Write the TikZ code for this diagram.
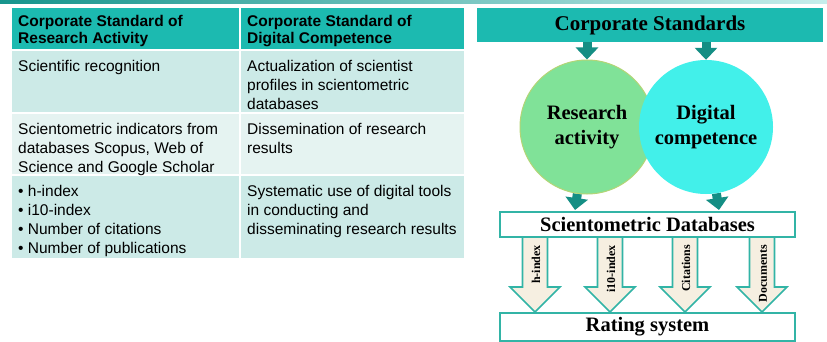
\documentclass[tikz,border=0pt]{standalone}
\usepackage{fontspec}
\setmainfont{Liberation Serif}
\newfontfamily\tabfont{Liberation Sans}
\usetikzlibrary{calc,arrows.meta,backgrounds}

\definecolor{tabhead}{RGB}{28,186,176}
\definecolor{rowdark}{RGB}{204,234,231}
\definecolor{rowlight}{RGB}{229,243,241}
\definecolor{darkteal}{RGB}{20,142,132}
\definecolor{boxline}{RGB}{50,180,166}
\definecolor{greenc}{RGB}{128,226,152}
\definecolor{cyanc}{RGB}{66,240,234}
\definecolor{arrowfill}{RGB}{246,239,225}

\tikzset{
  cell/.style={anchor=north west,inner sep=0pt,align=left,
    font=\tabfont\fontsize{15.5}{19}\selectfont},
  headcell/.style={cell,font=\tabfont\bfseries\fontsize{15.5}{17.5}\selectfont},
  tealarrow/.style={darkteal,line width=9pt,-{Triangle[width=22pt,length=12pt]}},
  dbbox/.style={draw=boxline,line width=2pt,fill=white,minimum width=295pt,
    inner sep=0pt,font=\bfseries\fontsize{20.5}{22}\selectfont},
  bigarrow/.style={draw=boxline,fill=arrowfill,line width=1.6pt,line join=miter},
  arrowlabel/.style={rotate=90,anchor=east,inner sep=0pt,font=\bfseries\fontsize{12}{12}\selectfont},
  blob/.style={circle,inner sep=0pt,minimum size=134pt,align=center,
    font=\bfseries\fontsize{20.5}{25}\selectfont}
}

% block arrow from the databases box down to the rating box
\newcommand{\tikzBlockArrow}[3]{
  \coordinate (#1top) at (#2,0 |- db.south);
  \coordinate (#1tip) at (#2,0 |- rate.north);
  \path[bigarrow] ($(#1top)+(-12.5,0)$) -- ($(#1tip)+(-12.5,-25)$) -- ($(#1tip)+(-25,-25)$)
    -- (#1tip) -- ($(#1tip)+(25,-25)$) -- ($(#1tip)+(12.5,-25)$) -- ($(#1top)+(12.5,0)$);
  \node[arrowlabel] (#1lab) at ($(#1top)+(1,7)$) {#3};
}

\begin{document}
\begin{tikzpicture}[x=1pt,y=-1pt]
  \useasboundingbox (0,0) rectangle (827,342);
  \shade[left color=tabhead!80!black,right color=tabhead!25] (0,0) rectangle (827,4);

  % table
  \fill[tabhead] (12,8) rectangle (464,50);
  \fill[rowdark] (12,50) rectangle (464,113);
  \fill[rowlight] (12,113) rectangle (464,175);
  \fill[rowdark] (12,175) rectangle (464,258);
  \draw[white,line width=1.5pt] (240,8) -- (240,258)
    (12,50) -- (464,50) (12,113) -- (464,113) (12,175) -- (464,175);

  \node[headcell] (h1) at (18,15) {Corporate Standard of\\Research Activity};
  \node[headcell] (h2) at (247,15) {Corporate Standard of\\Digital Competence};
  \node[cell] (a1) at (18,60) {Scientific recognition};
  \node[cell] (b1) at (247,60) {Actualization of scientist\\profiles in scientometric\\databases};
  \node[cell] (a2) at (18,123) {Scientometric indicators from\\databases Scopus, Web of\\Science and Google Scholar};
  \node[cell] (b2) at (247,123) {Dissemination of research\\results};
  \node[cell] (a3) at (18,185) {\textbullet{} h-index\\\textbullet{} i10-index\\\textbullet{} Number of citations\\\textbullet{} Number of publications};
  \node[cell] (b3) at (247,185) {Systematic use of digital tools\\in conducting and\\disseminating research results};

  % scheme
  \node[fill=tabhead,minimum width=346pt,minimum height=34pt,inner sep=0pt,
    font=\bfseries\fontsize{21}{22}\selectfont] (cs) at (650,25) {Corporate Standards};

  \node[blob,fill=greenc,draw=yellow!35!greenc,line width=1pt] (ra) at (587,127) {Research\\activity};
  \node[blob,fill=cyanc] (dc) at (706,127) {Digital\\competence};

  \draw[tealarrow] (cs.south -| ra) -- (ra.north);
  \draw[tealarrow] (cs.south -| dc) -- (dc.north);

  \node[dbbox,minimum height=25pt] (db) at (647.5,224.5) {Scientometric Databases};
  \node[dbbox,minimum height=28pt] (rate) at (647.5,327) {Rating system};

  \coordinate (dbl) at ($(db.north west)+(76,-1)$);
  \coordinate (dbr) at ($(db.north west)+(220,-1)$);
  \begin{scope}[on background layer]
    \fill[white] (0,0) rectangle (827,342);
    \draw[tealarrow] (ra) -- (dbl);
    \draw[tealarrow] (dc) -- (dbr);
  \end{scope}

  \tikzBlockArrow{hi}{535}{h-index}
  \tikzBlockArrow{ii}{610}{i10-index}
  \tikzBlockArrow{ci}{685}{Citations}
  \tikzBlockArrow{do}{762}{Documents}
\end{tikzpicture}
\end{document}
